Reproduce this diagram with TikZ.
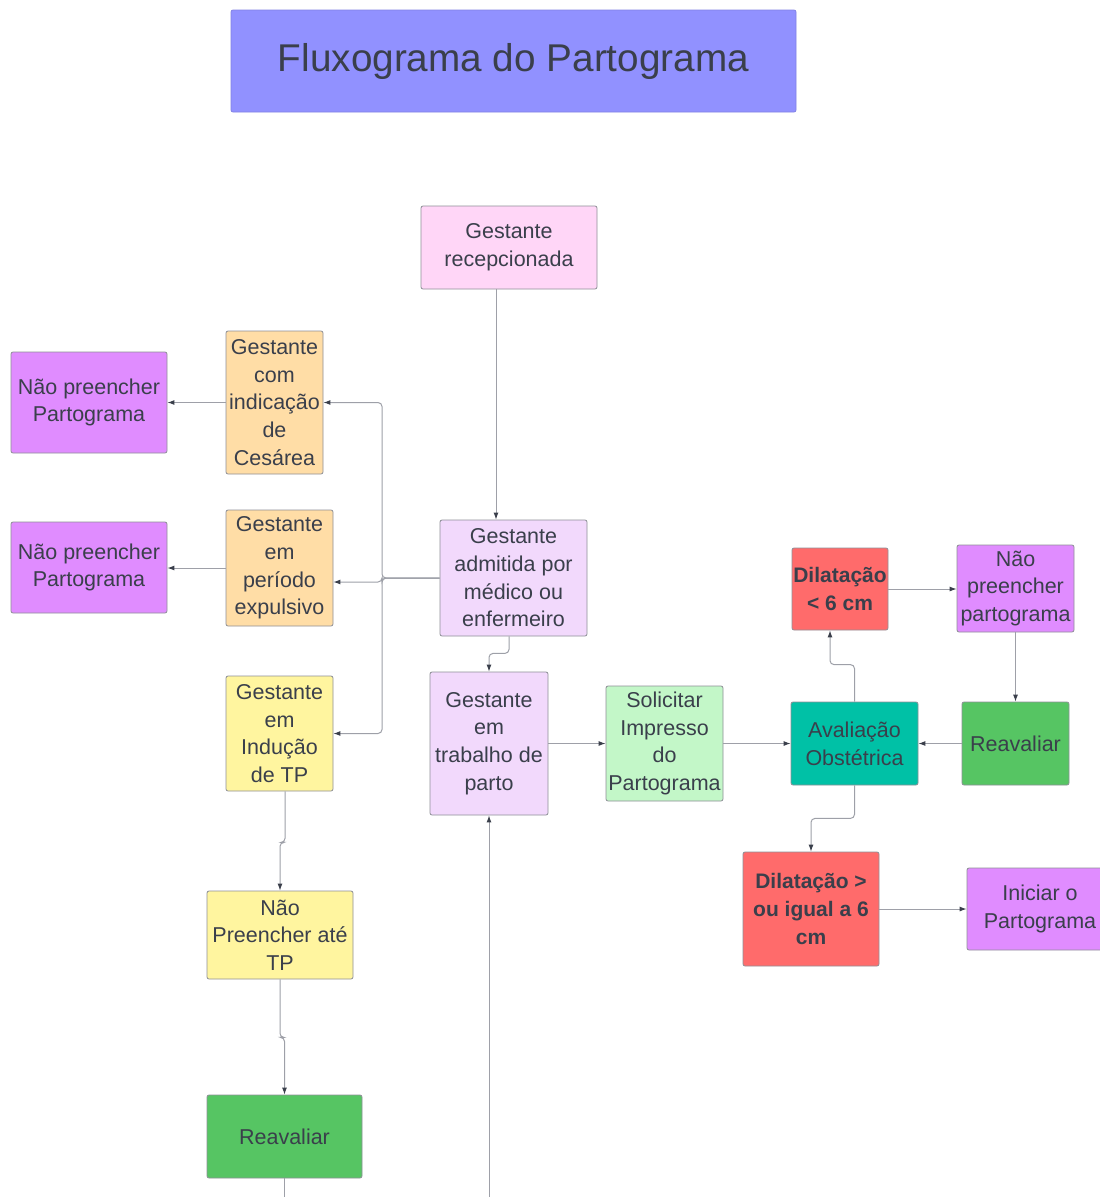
\documentclass[tikz,border=0pt]{standalone}
\usepackage{fontspec}
\setmainfont{Liberation Sans}
\usetikzlibrary{arrows.meta}
\definecolor{txt}{HTML}{3A3F4B}
\definecolor{edge}{HTML}{9EA0A8}
\definecolor{tip}{HTML}{3A3F4B}
\definecolor{cTitle}{HTML}{9191FF}
\definecolor{cPink}{HTML}{FFD6F7}
\definecolor{cOrange}{HTML}{FFDDA6}
\definecolor{cPurple}{HTML}{E08CFF}
\definecolor{cLav}{HTML}{F2D9FC}
\definecolor{cYellow}{HTML}{FFF59F}
\definecolor{cLGreen}{HTML}{C3F7C8}
\definecolor{cTeal}{HTML}{00C1A6}
\definecolor{cGreen}{HTML}{56C563}
\definecolor{cRed}{HTML}{FF6B6B}
\tikzset{
  box/.style={draw=edge!90!black, line width=0.8pt, rounded corners=2pt, inner sep=1pt,
    align=center, text=txt, font=\fontsize{21.5}{27.7}\selectfont},
  conn/.style={draw=edge, line width=1pt, rounded corners=4pt,
    -{Latex[length=7pt,width=5pt,color=tip]}},
  plain/.style={draw=edge, line width=1pt, rounded corners=4pt},
}
\begin{document}
\begin{tikzpicture}[x=1pt,y=-1pt]
\useasboundingbox (0,0) rectangle (1100,1197);
\fill[white] (0,0) rectangle (1100,1197);

\node[box, fill=cTitle, draw=cTitle!90!black, minimum width=565pt, minimum height=102pt,
  font=\fontsize{38.7}{46}\selectfont] (title) at (513.5,61) {Fluxograma do Partograma};

\node[box, fill=cPink, minimum width=176pt, minimum height=83pt] (recep) at (509,247.5) {Gestante\\recepcionada};
\node[box, fill=cOrange, minimum width=97pt, minimum height=143pt] (ces) at (274.5,402.5) {Gestante\\com\\indicação\\de\\Cesárea};
\node[box, fill=cPurple, minimum width=156pt, minimum height=101pt] (np1) at (89,402.5) {Não preencher\\Partograma};
\node[box, fill=cOrange, minimum width=107pt, minimum height=116pt] (exp) at (279.5,568) {Gestante\\em\\período\\expulsivo};
\node[box, fill=cPurple, minimum width=156pt, minimum height=91pt] (np2) at (89,567.5) {Não preencher\\Partograma};
\node[box, fill=cLav, minimum width=147pt, minimum height=116pt] (adm) at (513.5,578) {Gestante\\admitida por\\médico ou\\enfermeiro};
\node[box, fill=cYellow, minimum width=107pt, minimum height=115pt] (ind) at (279.5,733.5) {Gestante\\em\\Indução\\de TP};
\node[box, fill=cLav, minimum width=118pt, minimum height=143pt] (trab) at (489,743.5) {Gestante\\em\\trabalho de\\parto};
\node[box, fill=cLGreen, minimum width=117pt, minimum height=115pt] (sol) at (664.5,743.5) {Solicitar\\Impresso\\do\\Partograma};
\node[box, fill=cTeal, minimum width=127pt, minimum height=83pt] (aval) at (854.5,743.5) {Avaliação\\Obstétrica};
\node[box, fill=cGreen, minimum width=107pt, minimum height=83pt] (reavR) at (1015.5,743.5) {Reavaliar};
\node[box, fill=cRed, minimum width=96pt, minimum height=82pt, font=\bfseries\fontsize{21}{27.7}\selectfont] (dil1) at (840,589) {Dilatação\\< 6 cm};
\node[box, fill=cPurple, minimum width=117pt, minimum height=87pt] (npR) at (1015.5,588.5) {Não\\preencher\\partograma};
\node[box, fill=cRed, minimum width=136pt, minimum height=114pt, font=\bfseries\fontsize{21}{27.7}\selectfont] (dil2) at (811,909) {Dilatação >\\ou igual a 6\\cm};
\node[box, fill=cPurple, minimum width=146pt, minimum height=82pt] (ini) at (1040,909) {Iniciar o\\Partograma};
\node[box, fill=cYellow, minimum width=146pt, minimum height=88pt] (nptp) at (280,935) {Não\\Preencher até\\TP};
\node[box, fill=cGreen, minimum width=155pt, minimum height=83pt] (reavB) at (284.5,1136.5) {Reavaliar};

\coordinate (bus) at (382,578);
\coordinate (b1) at (284.5,1200);
\coordinate (b2) at (489,1200);

% connectors
\draw[conn] ([xshift=-13pt]recep.south) -- ([xshift=-17.5pt]adm.north);
\draw[conn] (adm.west) -- (bus) |- (ces.east);
\draw[conn] (adm.west) -- (bus) |- ([yshift=-14pt]exp.east);
\draw[conn] (adm.west) -- (bus) |- (ind.east);
\draw[conn] (ces.west) -- (np1.east |- ces.west);
\draw[conn] (exp.west) -- (np2.east |- exp.west);
\draw[conn] ([xshift=5.5pt]ind.south) -- ++(0,51) -| (nptp.north);
\draw[conn] (nptp.south) -- ++(0,58) -| (reavB.north);
\draw[plain] (reavB.south) -- (b1);
\draw[conn] (b2) -- (trab.south);
\draw[conn] ([xshift=-4.5pt]adm.south) -- ++(0,17) -| (trab.north);
\draw[conn] (trab.east) -- (sol.west);
\draw[conn] (sol.east) -- (aval.west);
\draw[conn] (reavR.west) -- (aval.east);
\draw[conn] (aval.north) -- ++(0,-37) -| ([xshift=-10pt]dil1.south);
\draw[conn] (dil1.east) -- (npR.west |- dil1.east);
\draw[conn] (npR.south) -- (reavR.north);
\draw[conn] (aval.south) -- ++(0,33) -| (dil2.north);
\draw[conn] (dil2.east) -- (ini.west);
\end{tikzpicture}
\end{document}
